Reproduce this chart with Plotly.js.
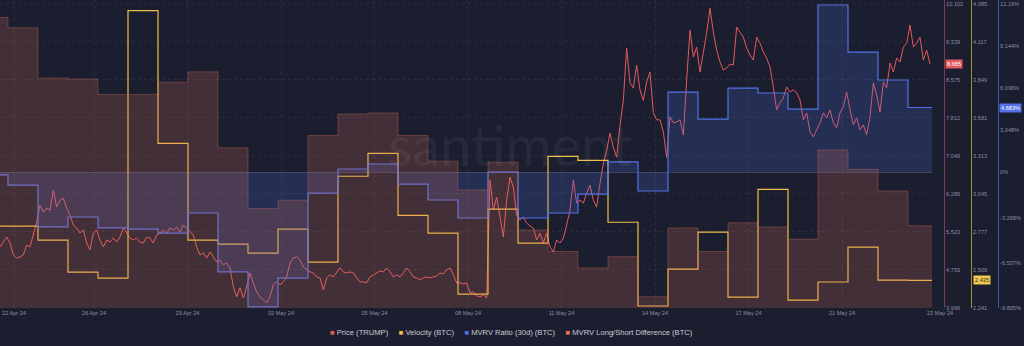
<!DOCTYPE html>
<html>
<head>
<meta charset="utf-8">
<script src="https://cdn.plot.ly/plotly-3.0.1.min.js"></script>
<style>
html,body{margin:0;padding:0;background:#1b1e2f;}
#chart{width:1024px;height:346px;}
</style>
</head>
<body>
<div id="chart"></div>
<script>
// ---------- data ----------
const seriesNames  = ['Price (TRUMP)', 'Velocity (BTC)', 'MVRV Ratio (30d) (BTC)', 'MVRV Long/Short Difference (BTC)'];
const seriesColors = ['#e3595d', '#efbf4c', '#5272e6', '#e8735c'];

// daily values, first entry is the partial day at the left edge (day index -1)
const velocityBTC = [2.817, 2.817, 2.719, 2.494, 2.452, 4.335, 3.400, 2.719, 2.691, 2.627, 2.796, 2.564,
  3.169, 3.330, 2.894, 2.768, 2.339, 2.937, 2.698, 3.309, 3.281, 2.845, 2.255, 2.515, 2.775, 2.318,
  3.077, 2.297, 2.424, 2.670, 2.438, 2.435];
const mvrvRatio30d = [-0.19, -0.92, -3.95, -3.23, -4.02, -4.10, -4.39, -2.94, -7.20, -9.73, -7.64, -1.50,
  0.24, 0.60, -0.85, -2.00, -3.30, 0.02, -3.30, -2.94, -1.57, 0.75, -1.35, 5.80, 3.85, 6.09,
  5.73, 4.57, 12.09, 8.69, 6.67, 4.683];
const mvrvLongShortDiff = [28.3, 27.3, 22.4, 22.3, 20.8, 20.8, 22.0, 23.0, 15.6, 9.7, 10.5, 16.8,
  18.9, 19.0, 16.8, 14.3, 11.5, 14.2, 7.6, 5.5, 3.9, 5.0, 1.1, 7.8, 5.5, 8.3,
  7.9, 6.7, 15.4, 13.5, 11.4, 8.0];
const firstDayIndex = -1;

// price (TRUMP), 9 samples per day starting at the left edge of the chart
const priceTrump = [
  5.22,5.32,5.42,5.30,5.06,5.00,5.02,5.06,5.26,5.22,
  5.46,5.72,6.06,5.92,6.00,5.96,6.36,6.02,6.16,6.20,
  6.00,5.86,5.66,5.60,5.50,5.56,5.30,5.16,5.50,5.56,
  5.36,5.22,5.36,5.32,5.40,5.32,5.42,5.60,5.50,5.40,
  5.36,5.40,5.32,5.30,5.42,5.40,5.30,5.46,5.50,5.56,
  5.50,5.60,5.56,5.62,5.52,5.66,5.60,5.52,5.46,5.22,
  5.06,5.10,5.00,5.12,5.02,4.92,4.96,4.86,4.90,4.80,
  4.42,4.22,4.40,4.20,4.42,4.70,4.50,4.32,4.22,4.16,
  4.10,4.22,4.46,4.52,4.46,4.52,4.62,4.90,5.00,5.02,
  4.96,4.82,4.76,4.72,4.70,4.62,4.60,4.36,4.60,4.66,
  4.62,4.72,4.80,4.72,4.70,4.72,4.70,4.60,4.52,4.52,
  4.50,4.62,4.66,4.70,4.74,4.72,4.80,4.72,4.62,4.66,
  4.62,4.70,4.80,4.72,4.62,4.60,4.56,4.60,4.62,4.60,
  4.62,4.64,4.70,4.68,4.76,4.80,4.66,4.50,4.50,4.48,
  4.50,4.30,4.32,4.24,4.22,4.26,4.20,6.56,5.96,6.22,
  5.82,5.42,6.16,6.62,6.42,5.86,5.76,5.82,5.70,5.64,
  5.60,5.36,5.50,5.30,5.50,5.22,5.12,5.36,5.30,5.40,
  5.66,5.96,6.56,6.10,6.16,6.10,6.30,6.46,6.16,6.02,
  6.50,6.90,7.16,7.50,7.22,7.02,7.66,8.16,9.21,8.51,
  8.41,8.87,8.37,8.16,8.53,8.73,7.91,7.77,7.77,7.53,
  7.02,7.83,7.71,7.73,7.77,7.47,8.57,9.57,9.03,9.23,
  8.73,9.11,9.51,10.01,9.53,9.17,8.93,8.77,8.81,8.89,
  8.87,9.63,9.53,9.43,9.21,9.07,8.97,9.43,9.31,9.13,
  9.01,8.83,8.43,7.97,8.11,8.21,8.43,8.33,8.37,8.31,
  8.17,7.77,7.91,7.53,7.43,7.57,7.71,7.91,7.81,7.97,
  7.71,7.61,7.91,8.03,8.33,7.97,7.67,7.81,7.57,7.67,
  7.47,7.83,8.51,8.27,7.93,8.53,8.41,8.91,8.73,9.01,
  8.93,9.23,9.31,9.67,9.23,9.31,9.43,8.97,9.17,8.89
];
const priceSamplesPerDay = 9;
const priceStartDay = -8 / 30;

// last-value labels
const lastPriceLabel = '8.685';
const lastVelocityLabel = '2.435';
const lastMvrvLabel = '4.683%';

// tick labels
const xTickDays  = [0.2, 2.867, 5.983, 9.1, 12.217, 15.333, 18.45, 21.567, 24.683, 27.8];
const xTickText  = ['22 Apr 24', '26 Apr 24', '29 Apr 24', '02 May 24', '05 May 24', '08 May 24',
                    '11 May 24', '14 May 24', '17 May 24', '21 May 24'];
const xLastTickText = '23 May 24';
const priceTicks = [3.996, 4.759, 5.523, 6.286, 7.049, 7.812, 8.575, 9.339, 10.102];
const velocityTicks = [2.241, 2.509, 2.777, 3.045, 3.313, 3.581, 3.849, 4.117, 4.385];
const mvrvTicks = [-9.805, -6.537, -3.268, 0, 3.048, 6.096, 9.144, 12.19];
const mvrvTickText = ['-9.805%', '-6.537%', '-3.268%', '0%', '3.048%', '6.096%', '9.144%', '12.19%'];

// ---------- build traces ----------
function stepX(arr) {
  const xs = arr.map((_, i) => i + firstDayIndex);
  xs.push(arr.length + firstDayIndex);
  return xs;
}
function stepY(arr) { return arr.concat([arr[arr.length - 1]]); }
const priceX = priceTrump.map((_, i) => priceStartDay + i / priceSamplesPerDay);

function hexA(hex, a) {
  const r = parseInt(hex.slice(1, 3), 16), g = parseInt(hex.slice(3, 5), 16), b = parseInt(hex.slice(5, 7), 16);
  return `rgba(${r},${g},${b},${a})`;
}

const traces = [
  {
    name: seriesNames[3], x: stepX(mvrvLongShortDiff), y: stepY(mvrvLongShortDiff), yaxis: 'y4',
    type: 'scatter', mode: 'lines', line: {shape: 'hv', color: hexA(seriesColors[3], 0.32), width: 1},
    fill: 'tozeroy', fillcolor: hexA(seriesColors[3], 0.2), hoverinfo: 'skip'
  },
  {
    name: seriesNames[2], x: stepX(mvrvRatio30d), y: stepY(mvrvRatio30d), yaxis: 'y3',
    type: 'scatter', mode: 'lines', line: {shape: 'hv', color: seriesColors[2], width: 1.2},
    fill: 'tozeroy', fillcolor: hexA(seriesColors[2], 0.2), hoverinfo: 'skip'
  },
  {
    name: seriesNames[1], x: stepX(velocityBTC), y: stepY(velocityBTC), yaxis: 'y2',
    type: 'scatter', mode: 'lines', line: {shape: 'hv', color: seriesColors[1], width: 1.2}, hoverinfo: 'skip'
  },
  {
    name: seriesNames[0], x: priceX, y: priceTrump, yaxis: 'y',
    type: 'scatter', mode: 'lines', line: {color: seriesColors[0], width: 1}, hoverinfo: 'skip'
  }
];

// ---------- layout ----------
const W = 1024, plotRight = 932, plotBottom = 308;
const axisFont = {family: 'Liberation Sans, Arial, sans-serif', size: 5.6, color: '#8a8ea0'};
const gridCol = 'rgba(255,255,255,0.07)';

const legendText = seriesNames.map((n, i) =>
  `<span style="color:${seriesColors[i]}">■</span>\u00a0${n}`).join('\u00a0\u00a0\u00a0\u00a0\u00a0');

const layout = {
  width: W, height: 346,
  margin: {l: 0, r: 0, t: 0, b: 38, pad: 0},
  paper_bgcolor: '#1b1e2f', plot_bgcolor: '#1b1e2f',
  showlegend: false,
  font: axisFont,
  xaxis: {
    domain: [0, plotRight / W], range: [-8 / 30, 924 / 30],
    tickmode: 'array', tickvals: xTickDays, ticktext: xTickText,
    showgrid: true, gridcolor: gridCol, griddash: 'dot', gridwidth: 1,
    zeroline: false, showline: false, ticks: '', tickfont: axisFont, fixedrange: true
  },
  yaxis: {
    anchor: 'free', position: 944 / W, side: 'right',
    range: [3.996, 3.996 + 308 * 0.02006],
    tickmode: 'array', tickvals: priceTicks, ticktext: priceTicks.map(v => v.toFixed(3)),
    showline: true, linecolor: '#7c3a4b', linewidth: 1,
    showgrid: true, gridcolor: gridCol, griddash: 'dot', zeroline: false, ticks: '',
    tickfont: axisFont, fixedrange: true
  },
  yaxis2: {
    overlaying: 'y', anchor: 'free', position: 971 / W, side: 'right',
    range: [2.241, 2.241 + 308 * 0.007043],
    tickmode: 'array', tickvals: velocityTicks, ticktext: velocityTicks.map(v => v.toFixed(3)),
    showline: true, linecolor: '#a88a3e', linewidth: 1,
    showgrid: false, zeroline: false, ticks: '', tickfont: axisFont, fixedrange: true
  },
  yaxis3: {
    overlaying: 'y', anchor: 'free', position: 998 / W, side: 'right',
    range: [-9.805, -9.805 + 308 * 0.07226],
    tickmode: 'array', tickvals: mvrvTicks, ticktext: mvrvTickText,
    showline: true, linecolor: '#3f58ad', linewidth: 1,
    showgrid: false, zeroline: true, zerolinecolor: 'rgba(190,190,240,0.22)', zerolinewidth: 1,
    ticks: '', tickfont: axisFont, fixedrange: true
  },
  yaxis4: {overlaying: 'y', visible: false, range: [0, 30], fixedrange: true},
  annotations: [
    {
      text: 'santiment', xref: 'paper', yref: 'paper', x: 510 / W, y: 0.53,
      showarrow: false, font: {family: 'Lato, sans-serif', size: 56, color: 'rgba(255,255,255,0.05)'}
    },
    {
      text: xLastTickText, xref: 'paper', yref: 'paper', x: 940 / W, y: -5 / plotBottom,
      xanchor: 'center', yanchor: 'middle', showarrow: false, font: axisFont
    },
    {
      text: lastPriceLabel, xref: 'paper', yref: 'y', x: 945 / W, y: priceTrump[priceTrump.length - 1],
      xanchor: 'left', yanchor: 'middle', showarrow: false, bgcolor: seriesColors[0], borderpad: 1,
      font: {family: axisFont.family, size: 5.6, color: '#ffffff'}
    },
    {
      text: lastVelocityLabel, xref: 'paper', yref: 'y2', x: 973 / W, y: velocityBTC[velocityBTC.length - 1],
      xanchor: 'left', yanchor: 'middle', showarrow: false, bgcolor: '#f2c94c', borderpad: 1,
      font: {family: axisFont.family, size: 5.6, color: '#2a2a2a'}
    },
    {
      text: lastMvrvLabel, xref: 'paper', yref: 'y3', x: 999 / W, y: mvrvRatio30d[mvrvRatio30d.length - 1],
      xanchor: 'left', yanchor: 'middle', showarrow: false, bgcolor: seriesColors[2], borderpad: 1,
      font: {family: axisFont.family, size: 5.6, color: '#ffffff'}
    },
    {
      text: legendText, xref: 'paper', yref: 'paper', x: 511 / W, y: (plotBottom - 332) / plotBottom,
      xanchor: 'center', yanchor: 'middle', showarrow: false,
      font: {family: 'Liberation Sans, Arial, sans-serif', size: 7.6, color: '#c9ccd6'}
    }
  ]
};

Plotly.newPlot('chart', traces, layout, {staticPlot: true, displayModeBar: false});
</script>
</body>
</html>
